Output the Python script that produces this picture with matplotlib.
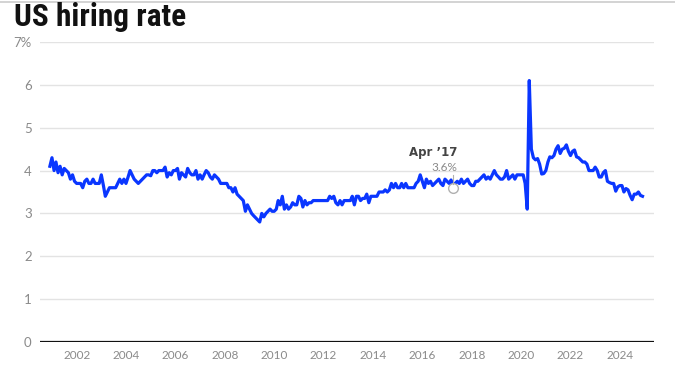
import matplotlib
matplotlib.use("Agg")
import matplotlib.pyplot as plt
from matplotlib.lines import Line2D
import pandas as pd

# Monthly US hiring rate (%), Dec 2000 - Dec 2024
rate_block1 = [4.1, 4.3, 4.0, 4.2, 3.95, 4.1, 3.9, 4.05, 4.0, 3.95, 3.8, 3.9,
               3.75, 3.7, 3.7, 3.7, 3.6, 3.75, 3.8, 3.7, 3.7, 3.8, 3.7, 3.7,
               3.7, 3.9, 3.65, 3.4, 3.5, 3.6, 3.6, 3.6, 3.6, 3.7, 3.8, 3.7,
               3.8, 3.7, 3.85, 4.0, 3.9, 3.8, 3.75, 3.7, 3.75, 3.8, 3.85, 3.9]
rate_block2 = [3.9, 3.88, 4.0, 4.0, 3.95, 4.0, 4.0, 4.0, 4.08, 3.85, 3.95, 3.9,
               4.0, 4.0, 4.05, 3.8, 3.95, 3.9, 3.85, 4.05, 3.95, 3.9, 3.9, 4.0,
               3.8, 3.9, 3.8, 3.9, 4.0, 3.95, 3.85, 3.8, 3.9, 3.85, 3.8, 3.7,
               3.7, 3.7, 3.7, 3.6, 3.6, 3.5, 3.6, 3.45, 3.4, 3.35, 3.3, 3.05]
rate_block3 = [3.2, 3.1, 3.0, 2.95, 2.9, 2.85, 2.8, 3.0, 2.92, 3.0, 3.05, 3.1,
               3.05, 3.05, 3.1, 3.3, 3.2, 3.4, 3.1, 3.2, 3.1, 3.15, 3.25, 3.2,
               3.2, 3.4, 3.35, 3.15, 3.3, 3.2, 3.25, 3.25, 3.3, 3.3, 3.3, 3.3,
               3.3, 3.3, 3.3, 3.3, 3.4, 3.35, 3.4, 3.25, 3.2, 3.3, 3.2, 3.3]
rate_block4 = [3.3, 3.3, 3.3, 3.4, 3.2, 3.4, 3.4, 3.3, 3.35, 3.35, 3.45, 3.25,
               3.4, 3.4, 3.4, 3.4, 3.5, 3.5, 3.5, 3.55, 3.5, 3.55, 3.7, 3.6,
               3.7, 3.6, 3.6, 3.7, 3.6, 3.7, 3.6, 3.6, 3.6, 3.6, 3.7, 3.75,
               3.9, 3.75, 3.6, 3.8, 3.7, 3.75, 3.65, 3.7, 3.75, 3.8, 3.7, 3.65]
rate_block5 = [3.8, 3.75, 3.7, 3.78, 3.6, 3.7, 3.75, 3.7, 3.8, 3.7, 3.75, 3.8,
               3.7, 3.65, 3.65, 3.75, 3.75, 3.8, 3.85, 3.9, 3.8, 3.85, 3.8, 3.9,
               4.0, 3.9, 3.85, 3.8, 3.8, 3.85, 4.0, 3.8, 3.85, 3.9, 3.8, 3.9,
               3.9, 3.9, 3.9, 3.7, 3.1, 6.1, 4.5, 4.3, 4.25, 4.28, 4.15, 3.92]
rate_block6 = [3.93, 4.0, 4.2, 4.32, 4.3, 4.35, 4.5, 4.58, 4.4, 4.5, 4.52, 4.6,
               4.45, 4.35, 4.45, 4.48, 4.32, 4.3, 4.25, 4.2, 4.2, 4.15, 4.0, 4.0,
               4.0, 4.08, 4.0, 3.85, 3.85, 3.95, 4.0, 3.75, 3.72, 3.7, 3.7, 3.52,
               3.62, 3.65, 3.65, 3.5, 3.58, 3.55, 3.42, 3.32, 3.45, 3.45, 3.5, 3.42,
               3.4]

rates = (rate_block1 + rate_block2 + rate_block3 +
         rate_block4 + rate_block5 + rate_block6)
dates = pd.date_range("2000-12-01", periods=len(rates), freq="MS")

y_ticks = [0, 1, 2, 3, 4, 5, 6, 7]
y_labels = ["0", "1", "2", "3", "4", "5", "6", "7%"]
x_tick_years = list(range(2002, 2025, 2))

title = "US hiring rate"
annot_date = pd.Timestamp("2017-04-01")
annot_label = "Apr \u201917"
annot_value = "3.6%"

W, H = 675, 376
fig = plt.figure(figsize=(W / 100, H / 100), dpi=100)
ax = fig.add_axes([40 / W, (H - 342) / H, (654 - 40) / W, 300 / H])

line_color = "#0a36ff"
ax.plot(dates, rates, color=line_color, lw=2.3, solid_joinstyle="round", zorder=3)

ax.set_ylim(0, 7)
ax.set_xlim(pd.Timestamp("2000-07-08"), pd.Timestamp("2025-05-20"))

for yv in y_ticks[1:]:
    ax.axhline(yv, color="#e3e3e3", lw=1.0, zorder=1)
ax.axhline(0, color="#111111", lw=1.6, zorder=2)

ax.set_yticks(y_ticks)
ax.set_yticklabels(y_labels)
ax.set_xticks([pd.Timestamp(f"{y}-01-01") for y in x_tick_years])
ax.set_xticklabels([str(y) for y in x_tick_years])
ax.tick_params(axis="both", length=0, colors="#8a8a8a")
ax.tick_params(axis="y", pad=6, labelsize=9.5)
ax.tick_params(axis="x", pad=6, labelsize=8.5)
for lab in ax.get_xticklabels() + ax.get_yticklabels():
    lab.set_fontfamily("Lato")
for s in ax.spines.values():
    s.set_visible(False)
ax.set_facecolor("none")

# annotation
idx = list(dates).index(annot_date)
val = rates[idx]
ax.plot([annot_date], [val], marker="o", ms=7, mfc="white", mec="#b0b0b0",
        mew=1.0, zorder=4)
ax.plot([annot_date, annot_date], [val + 0.09, val + 0.3], color="#b0b0b0",
        lw=0.8, zorder=4)
ax.annotate(annot_label, xy=(annot_date, val), xytext=(3, 25),
            textcoords="offset points", ha="right", va="center",
            fontsize=8.5, fontweight="bold", color="#444444", family="DejaVu Sans")
ax.annotate(annot_value, xy=(annot_date, val), xytext=(3, 14.5),
            textcoords="offset points", ha="right", va="center",
            fontsize=8.5, color="#8a8a8a", family="Lato")

fig.text(14 / W, 1 - 17.5 / H, title, fontsize=22.5, fontweight="bold",
         family=["Roboto Condensed", "Roboto", "DejaVu Sans"], color="#111111",
         ha="left", va="center")
fig.add_artist(Line2D([0, 1], [1 - 1.5 / H, 1 - 1.5 / H], color="#cccccc",
                      lw=1.2, transform=fig.transFigure))

fig.savefig("out.png", dpi=100, facecolor="white")
